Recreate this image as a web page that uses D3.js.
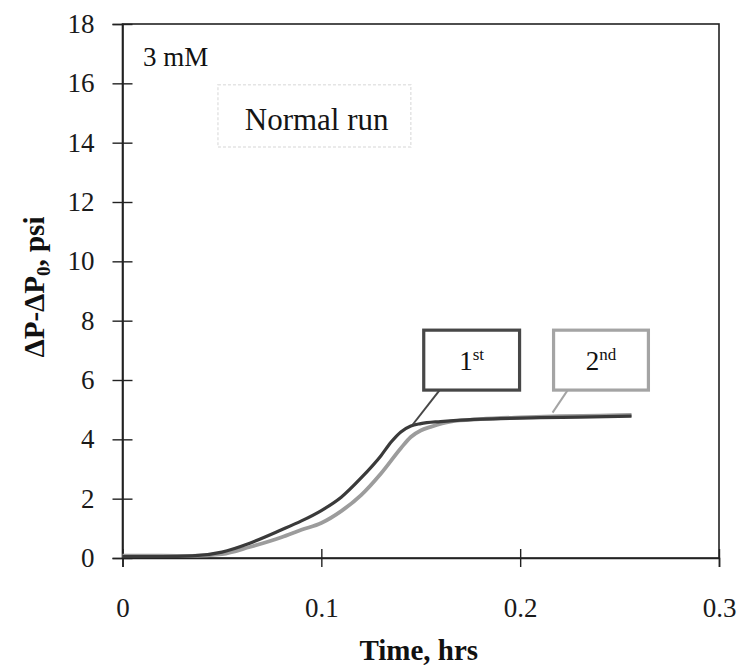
<!DOCTYPE html>
<html>
<head>
<meta charset="utf-8">
<script src="https://cdn.jsdelivr.net/npm/d3@7"></script>
<style>
  body { margin: 0; background: #fff; }
  svg { display: block; font-family: "Liberation Serif", "Times New Roman", serif; }
</style>
</head>
<body>
<div id="chart"></div>
<script>
'use strict';

// run 1 (dark)
var times1 = [0, 0.02, 0.035, 0.05, 0.064, 0.08, 0.09, 0.1, 0.11, 0.12, 0.13, 0.135, 0.14, 0.145, 0.15, 0.16, 0.17, 0.19, 0.21, 0.23, 0.256];
var values1 = [0.05, 0.05, 0.07, 0.2, 0.5, 0.95, 1.25, 1.6, 2.05, 2.7, 3.45, 3.9, 4.25, 4.45, 4.53, 4.6, 4.65, 4.7, 4.73, 4.75, 4.78];

// run 2 (light)
var times2 = [0, 0.02, 0.035, 0.05, 0.064, 0.08, 0.09, 0.1, 0.11, 0.12, 0.13, 0.14, 0.145, 0.15, 0.155, 0.165, 0.18, 0.2, 0.22, 0.24, 0.256];
var values2 = [0.08, 0.08, 0.07, 0.13, 0.37, 0.7, 0.95, 1.18, 1.58, 2.12, 2.85, 3.7, 4.08, 4.3, 4.42, 4.6, 4.68, 4.74, 4.78, 4.8, 4.82];

var xTicks = [0, 0.1, 0.2, 0.3];
var yTicks = [0, 2, 4, 6, 8, 10, 12, 14, 16, 18];

var width = 740, height = 667,
    margin = {top: 24, right: 21, bottom: 109, left: 122.5};

var svg = d3.select('#chart').append('svg')
    .attr('width', width)
    .attr('height', height);

var x = d3.scaleLinear().domain([0, 0.3]).range([margin.left, width - margin.right]);
var y = d3.scaleLinear().domain([0, 18]).range([height - margin.bottom, margin.top]);

// frame
svg.append('rect')
    .attr('x', x(0)).attr('y', y(18))
    .attr('width', x(0.3) - x(0)).attr('height', y(0) - y(18))
    .attr('fill', 'none').attr('stroke', '#222').attr('stroke-width', 1.6);

// axes, ticks cross the axis line
var yAxis = svg.append('g')
    .attr('transform', 'translate(' + x(0) + ',0)')
    .attr('font-family', null).attr('font-size', null)
    .call(d3.axisLeft(y).tickValues(yTicks).tickSize(10).tickPadding(18).tickFormat(d3.format('d')));
yAxis.attr('font-family', '"Liberation Serif", serif').attr('font-size', 27);
yAxis.select('.domain').attr('stroke', '#222').attr('stroke-width', 1.6);
yAxis.selectAll('.tick line').attr('x1', 10).attr('x2', -10).attr('stroke', '#222').attr('stroke-width', 1.4);
yAxis.selectAll('.tick text').attr('fill', '#1a1a1a');

var xAxis = svg.append('g')
    .attr('transform', 'translate(0,' + y(0) + ')')
    .call(d3.axisBottom(x).tickValues(xTicks).tickSize(9).tickPadding(31).tickFormat(function(d) { return d === 0 ? '0' : d3.format('.1f')(d); }));
xAxis.attr('font-family', '"Liberation Serif", serif').attr('font-size', 27);
xAxis.select('.domain').attr('stroke', '#222').attr('stroke-width', 1.6);
xAxis.selectAll('.tick line').attr('y1', -9).attr('y2', 9).attr('stroke', '#222').attr('stroke-width', 1.4);
xAxis.selectAll('.tick text').attr('fill', '#1a1a1a');

// axis titles
svg.append('text')
    .attr('x', (x(0) + x(0.3)) / 2 - 2).attr('y', 660)
    .attr('text-anchor', 'middle')
    .attr('font-size', 29).attr('font-weight', 'bold').attr('fill', '#111')
    .text('Time, hrs');

var yTitle = svg.append('text')
    .attr('transform', 'translate(44,' + (y(9) - 4) + ') rotate(-90)')
    .attr('text-anchor', 'middle')
    .attr('font-size', 29).attr('font-weight', 'bold').attr('fill', '#111');
yTitle.append('tspan').text('ΔP-ΔP');
yTitle.append('tspan').attr('font-size', 19).attr('dy', 6).text('0');
yTitle.append('tspan').attr('dy', -6).text(', psi');

// curves
var line = d3.line()
    .x(function(d) { return x(d[0]); })
    .y(function(d) { return y(d[1]); })
    .curve(d3.curveMonotoneX);

svg.append('path')
    .datum(d3.zip(times2, values2))
    .attr('d', line)
    .attr('fill', 'none').attr('stroke', '#9c9c9c').attr('stroke-width', 3.8);

svg.append('path')
    .datum(d3.zip(times1, values1))
    .attr('d', line)
    .attr('fill', 'none').attr('stroke', '#3a3a3a').attr('stroke-width', 3.2);

// labels in the plot
svg.append('text')
    .attr('x', x(0.0103)).attr('y', y(16.6))
    .attr('font-size', 27).attr('fill', '#111')
    .text('3 mM');

svg.append('rect')
    .attr('x', x(0.048)).attr('y', y(15.95))
    .attr('width', x(0.145) - x(0.048)).attr('height', y(13.85) - y(15.95))
    .attr('fill', 'none').attr('stroke', '#e4e4e4').attr('stroke-width', 1.5)
    .attr('stroke-dasharray', '3,2');

svg.append('text')
    .attr('x', x(0.0615)).attr('y', y(14.43))
    .attr('font-size', 31).attr('fill', '#151515')
    .text('Normal run');

// callouts
var callouts = [
    {t0: 0.1515, t1: 0.1997, v0: 5.66, v1: 7.68, big: '1', sup: 'st', lx0: 0.1595, lx1: 0.146, ly1: 4.5, color: '#474747'},
    {t0: 0.2168, t1: 0.2645, v0: 5.66, v1: 7.68, big: '2', sup: 'nd', lx0: 0.2239, lx1: 0.2163, ly1: 4.9, color: '#a4a4a4'}
];

callouts.forEach(function(c) {
    svg.append('line')
        .attr('x1', x(c.lx0)).attr('y1', y(c.v0))
        .attr('x2', x(c.lx1)).attr('y2', y(c.ly1))
        .attr('stroke', c.color).attr('stroke-width', 2);
    svg.append('rect')
        .attr('x', x(c.t0)).attr('y', y(c.v1))
        .attr('width', x(c.t1) - x(c.t0)).attr('height', y(c.v0) - y(c.v1))
        .attr('fill', '#fff').attr('stroke', c.color).attr('stroke-width', 3.2);
    var t = svg.append('text')
        .attr('x', x((c.t0 + c.t1) / 2)).attr('y', y(6.34))
        .attr('text-anchor', 'middle')
        .attr('font-size', 27).attr('fill', '#111');
    t.append('tspan').text(c.big);
    t.append('tspan').attr('font-size', 17).attr('dy', -10).text(c.sup);
});
</script>
</body>
</html>
